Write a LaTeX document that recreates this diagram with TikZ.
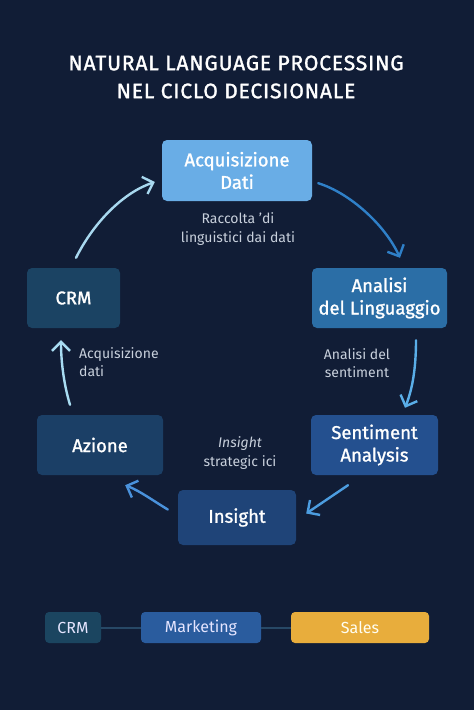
\documentclass[tikz,border=0pt]{standalone}
\usepackage{fontspec}
\setmainfont{Fira Sans}
\usetikzlibrary{arrows.meta,calc}
\definecolor{bg}{HTML}{111D36}
\definecolor{cacq}{HTML}{69ADE6}
\definecolor{cana}{HTML}{2B6EA6}
\definecolor{csen}{HTML}{24508F}
\definecolor{cins}{HTML}{1F4478}
\definecolor{cazi}{HTML}{1B3F66}
\definecolor{ccrm}{HTML}{1B4363}
\definecolor{bcrm}{HTML}{1B4560}
\definecolor{bmkt}{HTML}{2A5C9E}
\definecolor{bsal}{HTML}{E8AD3C}
\definecolor{capt}{HTML}{C8D0DC}
\definecolor{blink}{HTML}{274866}
\definecolor{a1}{HTML}{2F80C8}
\definecolor{a2}{HTML}{5AAEE8}
\definecolor{a3}{HTML}{4C9DE0}
\definecolor{a4}{HTML}{4A92DC}
\definecolor{a5}{HTML}{A8DCF2}
\definecolor{a6}{HTML}{A8D8EF}
\tikzset{
  box/.style={rounded corners=5pt, inner sep=0pt, text=white, align=center, font=\fontsize{18.5}{22.5}\selectfont\addfontfeatures{FakeBold=1.2}},
  capt/.style={text=capt, font=\fontsize{14}{18.5}\selectfont, inner sep=0pt},
  arr/.style={line width=2.4pt, line cap=round, -{Straight Barb[length=9pt,width=18pt,line width=2.4pt]}},
  bbox/.style={rounded corners=4pt, inner sep=0pt, font=\fontsize{16}{18}\selectfont},
  blinkst/.style={blink, line width=2pt}
}
\begin{document}
\begin{tikzpicture}[x=1pt,y=-1pt]
\fill[bg] (0,0) rectangle (474,710);
\useasboundingbox (0,0) rectangle (474,710);
% title
\node[text=white, align=center, font=\fontsize{21}{28}\selectfont\addfontfeatures{LetterSpace=4,FakeBold=1.5}] (title) at (236,77) {NATURAL LANGUAGE PROCESSING\\NEL CICLO DECISIONALE};
% boxes
\node[box, fill=cacq, minimum width=150pt, minimum height=61pt] (acq) at (237,170.5) {Acquisizione\\Dati};
\node[box, fill=cana, minimum width=135pt, minimum height=60pt] (ana) at (379.5,298) {Analisi\\del Linguaggio};
\node[box, fill=csen, minimum width=127pt, minimum height=60pt] (sen) at (374.5,445) {Sentiment\\Analysis};
\node[box, fill=cins, minimum width=118pt, minimum height=55pt] (ins) at (237,517.5) {Insight};
\node[box, fill=cazi, minimum width=126pt, minimum height=60pt] (azi) at (100,445) {Azione};
\node[box, fill=ccrm, minimum width=93pt, minimum height=60pt] (crm) at (73.5,298) {CRM};
% captions
\node[capt, align=center] (c1) at (238,229) {Raccolta 'di\\linguistici dai dati};
\node[capt, align=center] (c2) at (357,363) {Analisi del\\sentiment};
\node[capt, align=left, anchor=west] (c3) at (79,362) {Acquisizione\\dati};
\node[capt, align=center] (c4) at (240,453) {\itshape Insight\\strategic ici};
% arrows
\draw[arr, a1] ($(acq.south east)+(6,-18)$) .. controls (350,193) and (385,225) .. ($(ana.north)+(20.5,-10)$);
\draw[arr, a2] ($(ana.south)+(36.5,12)$) .. controls (416,370) and (412,390) .. ($(sen.north)+(30.5,-7)$);
\draw[arr, a3] ($(sen.south)+(-26.5,10)$) -- ($(ins.east)+(10,-4)$);
\draw[arr, a4] ($(ins.west)+(-10,-8)$) .. controls (152,500) and (140,491) .. ($(azi.south east)+(-38,10)$);
\draw[arr, a5] ($(azi.north)+(-30,-10)$) .. controls (64,385) and (61,362) .. ($(crm.south)+(-12.5,12)$);
\draw[arr, a6] ($(crm.north)+(2.5,-10)$) .. controls (95,220) and (125,192) .. ($(acq.west)+(-7,11.5)$);
% bottom bar
\node[bbox, fill=bcrm, text=white!90!blue, minimum width=56pt, minimum height=31pt] (bc) at (73,627.5) {CRM};
\node[bbox, fill=bmkt, text=white!90!blue, minimum width=120pt, minimum height=31pt] (bm) at (201,627.5) {Marketing};
\node[bbox, fill=bsal, text=white!95!yellow, minimum width=138pt, minimum height=31pt] (bs) at (360,627.5) {Sales};
\draw[blinkst] (bc.east) -- (bm.west);
\draw[blinkst] (bm.east) -- (bs.west);
\end{tikzpicture}
\end{document}
